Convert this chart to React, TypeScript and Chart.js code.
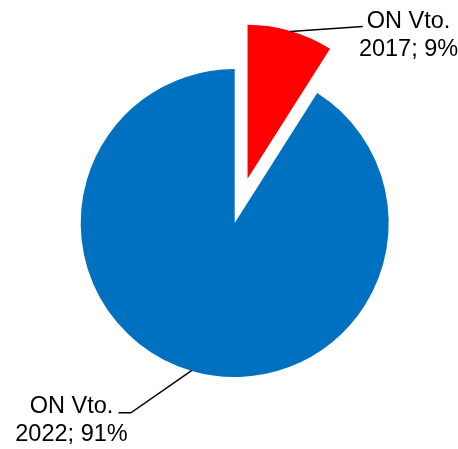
import React, { useEffect, useRef } from "react";
import { Chart, registerables } from "chart.js";

Chart.register(...registerables);

const categories = ["ON Vto. 2017", "ON Vto. 2022"];
const labelLines = [
  ["ON Vto.", "2017; 9%"],
  ["ON Vto.", "2022; 91%"],
];
const shares = [9, 91];
const colors = ["#FF0000", "#0070C0"];

// style / layout constants
const explode = [46, 0];
const FONT = '23.5px "Liberation Sans", Arial, sans-serif';
// leader path offsets relative to anchor point on arc edge, and text placement
const leaderPaths = [
  [[0, 0], [72.4, -5]],
  [[0, 0], [-61, 42.4], [-73.4, 42.4]],
];
const textPlace = [
  { dx: 118.2, dy: -3.3 },
  { dx: -120.4, dy: 42.7 },
];
const LINE_H = 27.5;

const explodePlugin = {
  id: "explodeSlices",
  afterDatasetsUpdate(chart: any) {
    const meta = chart.getDatasetMeta(0);
    meta.data.forEach((arc: any, i: number) => {
      const d = explode[i];
      if (!d) return;
      const mid = (arc.startAngle + arc.endAngle) / 2;
      arc.x += Math.cos(mid) * d;
      arc.y += Math.sin(mid) * d;
    });
  },
};

const labelPlugin = {
  id: "leaderLabels",
  afterDraw(chart: any) {
    const ctx = chart.ctx;
    const meta = chart.getDatasetMeta(0);
    ctx.save();
    meta.data.forEach((arc: any, i: number) => {
      const mid = (arc.startAngle + arc.endAngle) / 2;
      const r = arc.outerRadius - 0.5;
      const ax = arc.x + Math.cos(mid) * r;
      const ay = arc.y + Math.sin(mid) * r;
      ctx.beginPath();
      leaderPaths[i].forEach(([dx, dy], k) => {
        if (k === 0) ctx.moveTo(ax + dx, ay + dy);
        else ctx.lineTo(ax + dx, ay + dy);
      });
      ctx.strokeStyle = "#000";
      ctx.lineWidth = 1.5;
      ctx.stroke();
      ctx.font = FONT;
      ctx.fillStyle = "#000";
      ctx.textAlign = "center";
      ctx.textBaseline = "alphabetic";
      const tp = textPlace[i];
      labelLines[i].forEach((line, k) => {
        ctx.fillText(line, ax + tp.dx, ay + tp.dy + k * LINE_H);
      });
    });
    ctx.restore();
  },
};

export default function App() {
  const ref = useRef<HTMLCanvasElement | null>(null);
  useEffect(() => {
    if (!ref.current) return;
    const chart = new Chart(ref.current, {
      type: "pie",
      data: {
        labels: categories,
        datasets: [
          {
            data: shares,
            backgroundColor: colors,
            borderWidth: 0,
          },
        ],
      },
      options: {
        responsive: false,
        animation: false,
        layout: { padding: { left: 80.7, right: 69.3, top: 69, bottom: 72 } },
        plugins: {
          legend: { display: false },
          tooltip: { enabled: false },
        },
      },
      plugins: [explodePlugin, labelPlugin],
    });
    return () => chart.destroy();
  }, []);
  return (
    <div style={{ position: "fixed", left: 0, top: 0, width: 458, height: 449, background: "#fff" }}>
      <canvas ref={ref} width={458} height={449} style={{ display: "block" }} />
    </div>
  );
}
